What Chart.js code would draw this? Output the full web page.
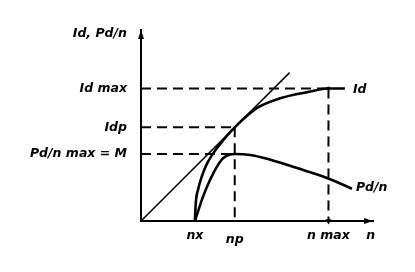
<!DOCTYPE html>
<html lang="en">
<head>
<meta charset="UTF-8">
<title>Id and Pd/n against n</title>
<script src="https://cdn.jsdelivr.net/npm/chart.js@4.4.1/dist/chart.umd.min.js"></script>
<style>
  html, body { margin: 0; padding: 0; background: #fff; }
  #wrap { width: 415px; height: 272px; position: relative; }
</style>
</head>
<body>
<div id="wrap"><canvas id="chart"></canvas></div>
<script>
// marked speeds on the n axis
const nx = 1.15, np = 2.0, nMax = 4.0;
// marked levels on the vertical axis
const idp = 2.0, idMax = 2.83, pdMax = 1.43;

const xTickValues = [nx, np, nMax, 4.9];
const xTickLabels = ['nx', 'np', 'n max', 'n'];
const yTickValues = [pdMax, idp, idMax, 3.99];
const yTickLabels = ['Pd/n max = M', 'Idp', 'Id max', 'Id, Pd/n'];

// Id curve
const idX = [1.15, 1.17, 1.22, 1.30, 1.40, 1.55, 1.75, 2.0, 2.47, 2.97, 3.54, 4.0, 4.35];
const idY = [0, 0.40, 0.68, 0.96, 1.21, 1.46, 1.72, 2.0, 2.41, 2.62, 2.75, 2.83, 2.83];
// Pd/n curve
const pdX = [1.15, 1.32, 1.47, 1.62, 1.75, 1.90, 2.0, 2.33, 2.69, 3.33, 3.97, 4.50];
const pdY = [0, 0.51, 0.87, 1.16, 1.34, 1.42, 1.43, 1.41, 1.33, 1.13, 0.92, 0.69];
// straight line from the origin, touching Id at np
const tangentX = [0, 3.17];
const tangentY = [0, 3.17];

const xMax = 4.95, yMax = 4.08;

const FONT = 'DejaVu Sans';
const pts = (xs, ys) => xs.map((x, i) => ({ x: x, y: ys[i] }));

function dashed(data, extra) {
  return Object.assign({
    data: data, showLine: true, borderColor: '#000', borderWidth: 2,
    borderDash: [10, 6], pointRadius: 0
  }, extra || {});
}

const endLabels = {
  id: 'endLabels',
  afterDatasetsDraw(chart) {
    const { ctx, scales: { x, y } } = chart;
    const x0 = x.getPixelForValue(0), xEnd = x.getPixelForValue(xMax);
    const y0 = y.getPixelForValue(0), yEnd = y.getPixelForValue(yMax);
    ctx.save();
    ctx.fillStyle = '#000';
    // arrow heads on the axes
    ctx.beginPath();
    ctx.moveTo(x0, yEnd); ctx.lineTo(x0 - 3, yEnd + 9); ctx.lineTo(x0 + 3, yEnd + 9);
    ctx.closePath(); ctx.fill();
    ctx.beginPath();
    ctx.moveTo(xEnd, y0); ctx.lineTo(xEnd - 9, y0 - 3); ctx.lineTo(xEnd - 9, y0 + 3);
    ctx.closePath(); ctx.fill();
    // curve names at their ends
    ctx.font = 'italic bold 12.5px "' + FONT + '"';
    ctx.textAlign = 'left';
    ctx.textBaseline = 'middle';
    chart.data.datasets.forEach((ds, i) => {
      if (!ds.nameOffset) return;
      const el = chart.getDatasetMeta(i).data[ds.data.length - 1];
      ctx.fillText(ds.label, el.x + ds.nameOffset[0], el.y + ds.nameOffset[1]);
    });
    ctx.restore();
  }
};

new Chart(document.getElementById('chart'), {
  type: 'scatter',
  data: {
    datasets: [
      { label: 'tangent', data: pts(tangentX, tangentY), showLine: true,
        borderColor: '#000', borderWidth: 1.5, pointRadius: 0 },
      { label: 'Id', data: pts(idX, idY), showLine: true, borderColor: '#000',
        borderWidth: 2.6, pointRadius: 0, cubicInterpolationMode: 'monotone',
        nameOffset: [8, 1.5] },
      { label: 'Pd/n', data: pts(pdX, pdY), showLine: true, borderColor: '#000',
        borderWidth: 2.6, pointRadius: 0, cubicInterpolationMode: 'monotone',
        nameOffset: [4, -1] },
      dashed([{ x: 0, y: idMax }, { x: nMax, y: idMax }]),
      dashed([{ x: 0, y: idp }, { x: np, y: idp }]),
      dashed([{ x: 0, y: pdMax }, { x: np, y: pdMax }]),
      dashed([{ x: np, y: idp }, { x: np, y: 0 }]),
      dashed([{ x: nMax, y: idMax }, { x: nMax, y: 0 }], {
        clip: false,
        pointStyle: ['circle', 'triangle'],
        rotation: [0, 180],
        pointRadius: [2, 3.5],
        pointBackgroundColor: '#000', pointBorderColor: '#000', pointBorderWidth: 0
      })
    ]
  },
  options: {
    responsive: true,
    maintainAspectRatio: false,
    animation: false,
    layout: { padding: { left: 0, right: 42, top: 30, bottom: 0 } },
    plugins: { legend: { display: false }, tooltip: { enabled: false } },
    scales: {
      x: {
        type: 'linear', min: 0, max: xMax,
        afterFit: s => { s.height = 51; },
        afterBuildTicks: s => { s.ticks = xTickValues.map(v => ({ value: v })); },
        grid: { display: false, drawTicks: false },
        border: { display: true, color: '#000', width: 2 },
        ticks: {
          autoSkip: false, maxRotation: 0, padding: 7, color: '#000',
          font: c => ({ family: FONT, size: 12.5, style: 'italic', weight: 'bold',
            lineHeight: c.tick && c.tick.value === np ? 1.95 : 1.25 }),
          callback: (v, i) => xTickLabels[i]
        }
      },
      y: {
        type: 'linear', min: 0, max: yMax,
        afterFit: s => { s.width = 141; },
        afterBuildTicks: s => { s.ticks = yTickValues.map(v => ({ value: v })); },
        grid: { display: false, drawTicks: false },
        border: { display: true, color: '#000', width: 2 },
        ticks: {
          autoSkip: false, padding: 14, color: '#000',
          font: { family: FONT, size: 12.5, style: 'italic', weight: 'bold' },
          callback: (v, i) => yTickLabels[i]
        }
      }
    }
  },
  plugins: [endLabels]
});
</script>
</body>
</html>
